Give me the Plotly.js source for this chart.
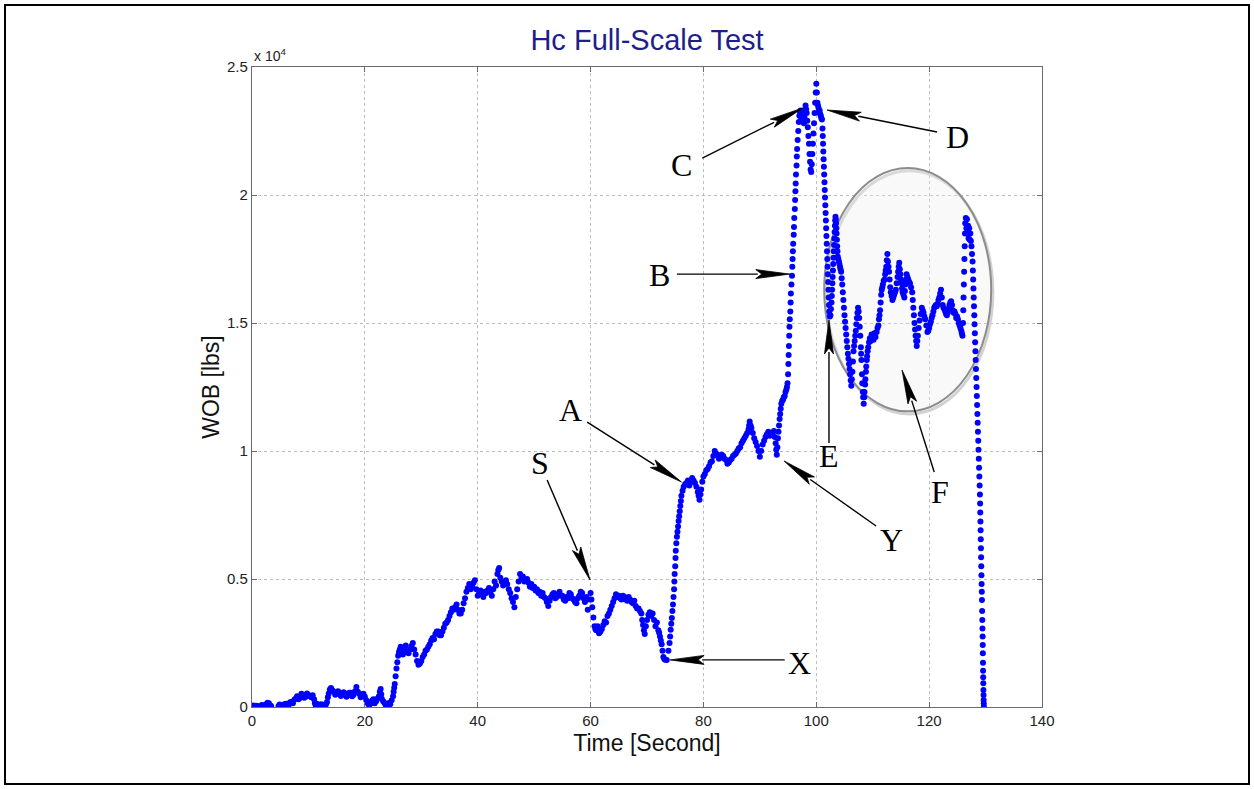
<!DOCTYPE html>
<html>
<head>
<meta charset="utf-8">
<script src="https://cdn.plot.ly/plotly-3.0.1.min.js"></script>
<style>
  html, body { margin: 0; padding: 0; background: #ffffff; }
  #chart { width: 1254px; height: 789px; }
</style>
</head>
<body>
<div id="chart"></div>
<script>
// Weight on bit during the Hc full-scale test: [time (s), WOB (lbs)] samples.
// Ramp-up phase: start, first loading, plateau around S and the drop at X
const rampSamples = [
  [0,20],[0.25,60],[0.5,10],[0.75,50],[1,40],[1.25,0],[1.5,20],[1.75,80],[2,60],[2.25,30],[2.5,110],[2.75,170],[3,150],[3.2,60],[3.4,40],
  [3.8,-200],[4.3,-200],
  [4.7,40],[4.9,100],[5,60],[5.25,10],[5.5,30],[5.75,110],[6,130],[6.25,40],[6.5,80],[6.75,190],[7,200],[7.25,150],[7.5,280],[7.75,330],
  [8,420],[8.25,300],[8.5,350],[8.75,520],[9,480],[9.25,360],[9.5,400],[9.75,530],[10,470],[10.25,420],[10.5,380],[10.75,460],[11,300],
  [11.15,150],[11.3,60],[11.5,130],[11.7,80],[11.85,20],[12,40],[12.25,110],[12.5,90],[12.75,20],[13,60],[13.15,130],[13.3,200],[13.45,380],
  [13.6,530],[13.8,680],[14,740],[14.25,650],[14.5,600],[14.75,480],[15,520],[15.25,620],[15.5,560],[15.75,430],[16,480],[16.25,580],
  [16.5,530],[16.75,400],[17,450],[17.25,560],[17.5,560],[17.75,420],[18,480],[18.25,620],[18.5,780],[18.75,600],[19,520],[19.25,380],
  [19.5,440],[19.75,520],[20,400],[20.25,260],[20.5,150],[20.75,60],[21,130],[21.25,240],[21.5,300],[21.75,150],[22,220],[22.25,330],
  [22.5,420],[22.65,600],[22.8,700],[22.9,500],[23,320],[23.25,220],[23.5,150],[23.75,40],[24,80],[24.25,160],[24.5,110],[24.75,260],
  [25,420],[25.1,600],[25.2,750],[25.3,900],[25.45,1200],[25.6,1500],[25.75,1750],[25.9,2000],[26.05,2150],[26.2,2250],[26.35,2350],
  [26.5,2150],[26.75,2050],[27,2300],[27.25,2400],[27.5,2150],[27.75,2100],[28,2250],[28.25,2380],[28.5,2500],[28.75,2250],[29,2050],
  [29.25,1800],[29.5,1650],[29.75,1700],[30,1800],[30.25,1950],[30.5,2050],[30.75,2200],[31,2250],[31.25,2350],[31.5,2450],[31.75,2600],
  [32,2700],[32.25,2650],[32.5,2850],[32.75,2950],[33,2950],[33.25,2800],[33.5,2800],[33.75,2950],[34,3100],[34.25,3250],[34.5,3300],
  [34.75,3400],[35,3550],[35.25,3700],[35.5,3850],[35.75,3800],[36,3900],[36.25,4000],[36.5,3800],[36.75,3650],[37,3650],[37.25,3800],
  [37.5,4050],[37.75,4250],[38,4500],[38.25,4650],[38.5,4800],[38.75,4600],[39,4700],[39.25,4850],[39.5,4950],[39.75,4600],[40,4350],
  [40.25,4450],[40.5,4550],[40.75,4400],[41,4300],[41.25,4500],[41.5,4450],[41.75,4550],[42,4650],[42.25,4500],[42.5,4350],[42.75,4600],
  [43,4900],[43.25,4750],[43.5,5200],[43.65,5350],[43.8,5430],[44,5050],[44.25,4900],[44.5,4750],[44.75,4850],[45,4950],[45.25,4800],
  [45.5,4600],[45.75,4450],[46,4250],[46.25,4100],[46.5,3900],[46.75,4300],[47,4600],[47.25,4900],[47.5,5200],[47.75,5050],[48,5100],
  [48.25,4900],[48.5,4950],[48.75,5000],[49,4850],[49.25,4700],[49.5,4800],[49.75,4650],[50,4700],[50.25,4550],[50.5,4600],[50.75,4450],
  [51,4500],[51.25,4350],[51.5,4450],[51.75,4300],[52,4250],[52.25,4100],[52.5,3950],[52.75,4150],[53,4300],[53.25,4400],[53.5,4450],
  [53.75,4250],[54,4300],[54.25,4400],[54.5,4500],[54.75,4350],[55,4350],[55.25,4200],[55.5,4150],[55.75,4300],[56,4250],[56.25,4450],
  [56.5,4400],[56.75,4250],[57,4200],[57.25,4100],[57.5,4050],[57.75,4250],[58,4350],[58.25,4500],[58.5,4450],[58.75,4250],[59,4100],
  [59.25,4300],[59.5,3800],[59.75,4200],[60,4450],[60.15,4200],[60.3,3900],[60.5,3500],[60.7,3150],[60.85,3050],[61,3000],[61.25,3150],
  [61.5,2880],[61.75,2950],[62,3050],[62.25,3200],[62.5,3350],[62.75,3300],[63,3550],[63.25,3650],[63.5,3800],[63.75,3950],[64,4100],
  [64.25,4250],[64.5,4400],[64.75,4300],[65,4350],[65.25,4250],[65.5,4200],[65.75,4350],[66,4300],[66.25,4200],[66.5,4150],[66.75,4300],
  [67,4200],[67.25,4100],[67.5,4050],[67.75,4150],[68,3950],[68.25,3850],[68.5,3850],[68.75,3750],[69,3650],[69.15,3400],[69.3,3200],
  [69.45,3000],[69.6,2850],[69.8,3150],[70,3400],[70.25,3600],[70.5,3700],[70.75,3550],[71,3650],[71.25,3400],[71.5,3150],[71.75,3300],
  [72,3000],[72.15,2900],[72.3,2750],[72.45,2600],[72.6,2450],[72.75,2200],[72.9,1950],[73.05,1880],[73.2,1850]
];

// Loading phase: steep rise to A, plateau up to Y, rise through B, peaks C and D
const loadSamples = [
  [73.5,1840],[73.8,2200],[74.0,2500],[74.1,2750],[74.2,3020],[74.3,3250],[74.4,3480],[74.5,3750],[74.6,4000],[74.7,4300],[74.8,4600],
  [74.85,4900],[74.9,5200],[75.0,5500],[75.05,5820],[75.1,6100],[75.2,6400],[75.3,6650],[75.4,6850],[75.5,7050],[75.6,7270],[75.7,7450],
  [75.8,7650],[75.9,7850],[76.0,8050],[76.1,8250],[76.3,8450],[76.5,8600],[76.75,8700],[77,8750],[77.25,8850],[77.5,8650],[77.75,8800],
  [78,8950],[78.25,8850],[78.5,8750],[78.75,8600],[79,8400],[79.15,8250],[79.3,8100],[79.45,8300],[79.6,8500],[79.8,8800],[80,9000],
  [80.25,9100],[80.5,9250],[80.75,9300],[81,9400],[81.25,9550],[81.5,9600],[81.75,9800],[82,10000],[82.25,9900],[82.5,9850],[82.75,9700],
  [83,9750],[83.25,9850],[83.5,9800],[83.75,9700],[84,9650],[84.25,9500],[84.5,9550],[84.75,9650],[85,9700],[85.25,9800],[85.5,9850],
  [85.75,9900],[86,10000],[86.25,10100],[86.5,10150],[86.75,10300],[87,10400],[87.25,10500],[87.5,10600],[87.75,10700],[88,10850],
  [88.1,11000],[88.2,11150],[88.35,11000],[88.5,10900],[88.75,10700],[89,10500],[89.25,10350],[89.5,10200],[89.75,10000],[90,9780],
  [90.25,10000],[90.5,10250],[90.75,10400],[91,10550],[91.25,10650],[91.5,10750],[91.75,10600],[92,10650],[92.25,10700],[92.5,10780],
  [92.65,10550],[92.8,10300],[92.9,10050],[93.0,9850],[93.1,10150],[93.2,10500],[93.3,10750],[93.4,11000],[93.5,11250],[93.6,11450],
  [93.7,11650],[93.8,11850],[93.95,11950],[94.1,12000],[94.25,12100],[94.4,12150],[94.55,12300],[94.7,12400],[94.8,12500],[94.9,12650],
  [95.0,13000],[95.05,13400],[95.1,13750],[95.15,14100],[95.2,14500],[95.25,14850],[95.3,15150],[95.4,15450],[95.45,15800],[95.5,16150],
  [95.6,16500],[95.7,16850],[95.75,17200],[95.8,17500],[95.85,17800],[95.9,18100],[96.0,18450],[96.05,18750],[96.1,19100],[96.2,19450],
  [96.25,19800],[96.3,20150],[96.35,20450],[96.4,20800],[96.5,21150],[96.55,21500],[96.6,21800],[96.7,22150],[96.8,22500],[96.9,22850],
  [97.0,23100],[97.1,23250],[97.2,23300],[97.3,23050],[97.4,22900],[97.5,23050],[97.6,23200],[97.7,22950],[97.8,22800],[97.9,23050],
  [98.0,23300],[98.1,23500],[98.2,23350],[98.3,23200],[98.4,22900],[98.5,22650],[98.6,22300],[98.7,22000],[98.8,21600],[98.9,21300],
  [99.0,21000],[99.1,20900],[99.2,21200],[99.3,21600],[99.4,22000],[99.5,22400],[99.6,22800],[99.7,23200],[99.8,23600],[99.9,24000],
  [100.0,24350],[100.1,24000],[100.2,23600],[100.3,23500],[100.4,23400],[100.5,23250],[100.6,23300],[100.7,23150],[100.8,23100],
  [100.9,23000],[101.0,22950]
];

// Release phase: fall after D, oscillations between E and F, last peak, unloading
const releaseSamples = [
  [101.1,22600],[101.15,22300],[101.2,22000],[101.25,21700],[101.3,21400],[101.35,21100],[101.4,20800],[101.45,20500],[101.5,20200],
  [101.55,19900],[101.6,19600],[101.65,19300],[101.7,19000],[101.75,18700],[101.8,18400],[101.85,18100],[101.9,17800],[101.95,17500],
  [102.0,17200],[102.05,16900],[102.1,16600],[102.15,16300],[102.2,16000],[102.25,15700],[102.3,15450],[102.4,15250],[102.5,15300],
  [102.6,15550],[102.7,15800],[102.75,16050],[102.8,16300],[102.85,16550],[102.9,16800],[102.95,17050],[103.0,17300],[103.05,17550],
  [103.1,17800],[103.15,18050],[103.2,18300],[103.25,18550],[103.3,18800],[103.35,19000],[103.4,19150],[103.45,19050],[103.5,18900],
  [103.55,18700],[103.6,18500],[103.65,18250],[103.7,18000],[103.75,17800],[103.8,17600],[103.9,17500],[104.0,17400],[104.1,17300],
  [104.2,17200],[104.3,17100],[104.4,17000],[104.5,16750],[104.6,16500],[104.7,16200],[104.8,15900],[104.9,15600],[105.0,15300],
  [105.1,15050],[105.2,14800],[105.3,14550],[105.4,14300],[105.5,14050],[105.6,13800],[105.7,13600],[105.8,13400],[105.9,13200],
  [106.0,13000],[106.1,12750],[106.2,12550],[106.3,12800],[106.4,13100],[106.5,13500],[106.6,13900],[106.7,14100],[106.8,14300],
  [106.9,14500],[107.0,14700],[107.1,14950],[107.2,15200],[107.3,15400],[107.4,15600],[107.5,15450],[107.6,15200],[107.7,14850],
  [107.8,14500],[107.9,14050],[107.95,13800],[108.0,13550],[108.1,13000],[108.15,12650],[108.25,12300],[108.3,12100],[108.4,11850],
  [108.5,12100],[108.55,12300],[108.65,12600],[108.7,12800],[108.8,13100],[108.85,13300],[108.95,13550],[109.0,13700],[109.1,13900],
  [109.2,14050],[109.35,14250],[109.5,14400],[109.65,14300],[109.8,14550],[110.0,14500],[110.15,14350],[110.3,14600],[110.5,14450],
  [110.7,14650],[110.85,14800],[111.0,14900],[111.1,15150],[111.2,15300],[111.3,15500],[111.4,15800],[111.5,16100],[111.6,16300],
  [111.7,16400],[111.8,16500],[111.95,16650],[112.1,16700],[112.2,16900],[112.3,17050],[112.4,17200],[112.5,17450],[112.6,17700],
  [112.7,17400],[112.8,17200],[112.9,17000],[113.0,16700],[113.1,16400],[113.2,16200],[113.35,16050],[113.5,15900],[113.65,16000],
  [113.8,16100],[113.95,16200],[114.1,16300],[114.25,16550],[114.4,16800],[114.5,17000],[114.6,17200],[114.7,17350],[114.8,17100],
  [114.9,16900],[115.0,16700],[115.1,16550],[115.2,16350],[115.3,16200],[115.45,16100],[115.6,16000],[115.7,16250],[115.8,16500],
  [115.9,16700],[116.0,16900],[116.15,16800],[116.3,16700],[116.45,16600],[116.6,16550],[116.8,16400],[117.0,16200],[117.1,15900],
  [117.2,15600],[117.3,15300],[117.4,15000],[117.5,14750],[117.6,14500],[117.7,14300],[117.8,14100],[117.9,14300],[118.0,14500],
  [118.15,14800],[118.3,15100],[118.5,15350],[118.7,15600],[118.85,15500],[119.0,15400],[119.15,15250],[119.3,15150],[119.5,14900],
  [119.7,14650],[119.85,14700],[120.0,14800],[120.15,14950],[120.3,15050],[120.45,15200],[120.6,15300],[120.75,15450],[120.9,15600],
  [121.05,15650],[121.2,15700],[121.35,15650],[121.5,15750],[121.65,15900],[121.8,16000],[121.95,16150],[122.1,16300],[122.25,16000],
  [122.4,15700],[122.55,15600],[122.7,15550],[122.85,15450],[123.0,15350],[123.15,15300],[123.3,15400],[123.45,15550],[123.6,15700],
  [123.75,15800],[123.9,15850],[124.05,15700],[124.2,15500],[124.35,15400],[124.5,15450],[124.65,15350],[124.8,15200],[124.95,15250],
  [125.1,15150],[125.25,15000],[125.4,14900],[125.55,14800],[125.7,14700],[125.8,14600],[125.9,14500],
  [126.0,15000],[126.05,15500],[126.1,16000],[126.15,16500],[126.2,17000],[126.25,17500],[126.3,18000],[126.35,18500],[126.4,18900],
  [126.5,19100],[126.6,18700],[126.7,19050],[126.8,18500],[126.9,18800],[127.0,18300],[127.1,18700],[127.2,18250],[127.3,18500],
  [127.4,18200],[127.5,18000],[127.6,17700],
  [127.7,17400],[127.75,17050],[127.8,16700],[127.85,16350],[127.9,16000],[127.95,15650],[128.0,15300],[128.05,14950],[128.1,14600],
  [128.15,14250],[128.2,13900],[128.25,13550],[128.3,13200],[128.35,12850],[128.4,12500],[128.45,12150],[128.5,11800],[128.55,11450],
  [128.6,11100],[128.65,10750],[128.7,10400],[128.75,10050],[128.8,9700],[128.85,9350],[128.9,9000],[128.95,8650],[129.0,8300],
  [129.03,7950],[129.06,7600],[129.09,7250],[129.12,6900],[129.15,6550],[129.18,6200],[129.21,5850],[129.24,5500],[129.27,5150],
  [129.3,4800],[129.33,4500],[129.36,4180],[129.39,3750],[129.42,3400],[129.45,3070],[129.48,2750],[129.5,2420],[129.52,2100],
  [129.54,1730],[129.56,1420],[129.58,1160],[129.6,925],[129.62,660],[129.64,470],[129.66,270],[129.68,140],[129.7,10]
];

const timeTicks = [0, 20, 40, 60, 80, 100, 120, 140];
const wobTicks = [0, 5000, 10000, 15000, 20000, 25000];
const wobTickLabels = ['0', '0.5', '1', '1.5', '2', '2.5'];

// Event labels along the curve
const calloutLabels = ['S', 'A', 'X', 'Y', 'B', 'C', 'D', 'E', 'F'];

// Plot geometry (px) and axis ranges
const M = { l: 252, r: 212, t: 67, b: 82 };
const FIG_W = 1254, FIG_H = 789;
const PW = FIG_W - M.l - M.r, PH = FIG_H - M.t - M.b;
const X_RANGE = [0, 140], Y_RANGE = [0, 25000];

function toPx(t, w) {
  return [M.l + (t - X_RANGE[0]) / (X_RANGE[1] - X_RANGE[0]) * PW,
          M.t + (1 - (w - Y_RANGE[0]) / (Y_RANGE[1] - Y_RANGE[0])) * PH];
}
function toData(px, py) {
  return [X_RANGE[0] + (px - M.l) / PW * (X_RANGE[1] - X_RANGE[0]),
          Y_RANGE[0] + (1 - (py - M.t) / PH) * (Y_RANGE[1] - Y_RANGE[0])];
}

// label position, arrow tail and arrow tip for each label, in axis units
const calloutGeometry = {
  S: { label: [51.0, 9530],  tail: [52.3, 8870],  tip: [59.9, 4960] },
  A: { label: [56.5, 11600], tail: [59.4, 11130], tip: [76.1, 8790] },
  X: { label: [97.1, 1720],  tail: [94.4, 1840],  tip: [74.1, 1840] },
  Y: { label: [113.4, 6520], tail: [110.6, 7070], tip: [94.3, 9610] },
  B: { label: [72.3, 16880], tail: [75.3, 16910], tip: [95.3, 16910] },
  C: { label: [76.2, 21170], tail: [79.8, 21440], tip: [97.6, 23400] },
  D: { label: [125.1, 22270], tail: [121.4, 22460], tip: [101.9, 23320] },
  E: { label: [102.25, 9800], tail: [102.25, 10310], tip: [102.25, 15120] },
  F: { label: [121.9, 8400], tail: [120.9, 9180], tip: [115.2, 13160] }
};

const HEAD_LEN = 34, HEAD_HALF = 4.5;

const shapes = [];
const annotations = [];

// outer frame around the whole figure
shapes.push({
  type: 'rect', xref: 'paper', yref: 'paper',
  x0: (5 - M.l) / PW, x1: (1249 - M.l) / PW,
  y0: (M.t + PH - 784) / PH, y1: (M.t + PH - 5) / PH,
  line: { color: '#000000', width: 2 }, fillcolor: 'rgba(0,0,0,0)'
});

// highlighted region F (soft shadow, then the ellipse)
shapes.push({
  type: 'circle', xref: 'x', yref: 'y', layer: 'between',
  x0: 101.7, x1: 131.3, y0: 11450, y1: 20950,
  line: { color: '#d2d2d2', width: 3 }, fillcolor: 'rgba(0,0,0,0)'
});
shapes.push({
  type: 'circle', xref: 'x', yref: 'y', layer: 'between',
  x0: 101.4, x1: 131.0, y0: 11550, y1: 21050,
  line: { color: '#8c8c8c', width: 2 }, fillcolor: 'rgba(235,235,235,0.3)'
});

calloutLabels.forEach(function (name) {
  const g = calloutGeometry[name];
  const a = toPx(g.tail[0], g.tail[1]);
  const b = toPx(g.tip[0], g.tip[1]);
  const dx = b[0] - a[0], dy = b[1] - a[1];
  const len = Math.sqrt(dx * dx + dy * dy);
  const ux = dx / len, uy = dy / len;
  const nx = -uy, ny = ux;
  const base = [b[0] - ux * HEAD_LEN, b[1] - uy * HEAD_LEN];
  const lineEnd = toData(base[0] + ux * 2, base[1] + uy * 2);
  shapes.push({
    type: 'line', xref: 'x', yref: 'y',
    x0: g.tail[0], y0: g.tail[1], x1: lineEnd[0], y1: lineEnd[1],
    line: { color: '#000000', width: 1.4 }
  });
  const p1 = toData(b[0], b[1]);
  const p2 = toData(base[0] + nx * HEAD_HALF, base[1] + ny * HEAD_HALF);
  const p3 = toData(base[0] + ux * 6, base[1] + uy * 6);
  const p4 = toData(base[0] - nx * HEAD_HALF, base[1] - ny * HEAD_HALF);
  shapes.push({
    type: 'path', xref: 'x', yref: 'y',
    path: 'M' + p1[0] + ',' + p1[1] + ' L' + p2[0] + ',' + p2[1] +
          ' L' + p3[0] + ',' + p3[1] + ' L' + p4[0] + ',' + p4[1] + ' Z',
    fillcolor: '#000000', line: { color: '#000000', width: 0.8 }
  });
  annotations.push({
    xref: 'x', yref: 'y', x: g.label[0], y: g.label[1],
    text: name, showarrow: false, xanchor: 'center', yanchor: 'middle',
    font: { family: 'Liberation Serif, Times New Roman, serif', size: 32, color: '#000000' }
  });
});

// exponent of the WOB axis
annotations.push({
  xref: 'paper', yref: 'paper', x: 0, y: 1, xanchor: 'left', yanchor: 'bottom',
  yshift: 1, showarrow: false, text: 'x 10<sup>4</sup>',
  font: { family: 'Liberation Sans, Arial, sans-serif', size: 14, color: '#222222' }
});

const samples = rampSamples.concat(loadSamples, releaseSamples);
const trace = {
  type: 'scatter', mode: 'markers',
  x: samples.map(function (p) { return p[0]; }),
  y: samples.map(function (p) { return p[1]; }),
  marker: { color: '#0000ff', size: 6 },
  hoverinfo: 'x+y', showlegend: false
};

const axisCommon = {
  showgrid: true, gridcolor: '#bdbdbd', griddash: 'dot', gridwidth: 1,
  showline: true, linecolor: '#6a6a6a', linewidth: 1.2, mirror: 'ticks',
  ticks: 'inside', ticklen: 5, tickcolor: '#6a6a6a', zeroline: false,
  tickfont: { family: 'Liberation Sans, Arial, sans-serif', size: 15, color: '#222222' },
  automargin: false
};

const layout = {
  width: FIG_W, height: FIG_H,
  margin: { l: M.l, r: M.r, t: M.t, b: M.b, pad: 0 },
  paper_bgcolor: '#ffffff', plot_bgcolor: '#ffffff',
  title: {
    text: 'Hc Full-Scale Test', xref: 'paper', x: 0.5, xanchor: 'center',
    yref: 'container', y: 1 - 40 / FIG_H, yanchor: 'middle',
    font: { family: 'Liberation Sans, Arial, sans-serif', size: 29, color: '#1e1e8c' }
  },
  xaxis: Object.assign({}, axisCommon, {
    range: X_RANGE, tickvals: timeTicks,
    title: { text: 'Time [Second]', standoff: 6,
             font: { family: 'Liberation Sans, Arial, sans-serif', size: 23, color: '#111111' } }
  }),
  yaxis: Object.assign({}, axisCommon, {
    range: Y_RANGE, tickvals: wobTicks, ticktext: wobTickLabels,
    title: { text: 'WOB [lbs]', standoff: 0,
             font: { family: 'Liberation Sans, Arial, sans-serif', size: 23, color: '#111111' } }
  }),
  shapes: shapes,
  annotations: annotations
};

Plotly.newPlot('chart', [trace], layout, { displayModeBar: false, staticPlot: true });
</script>
</body>
</html>
